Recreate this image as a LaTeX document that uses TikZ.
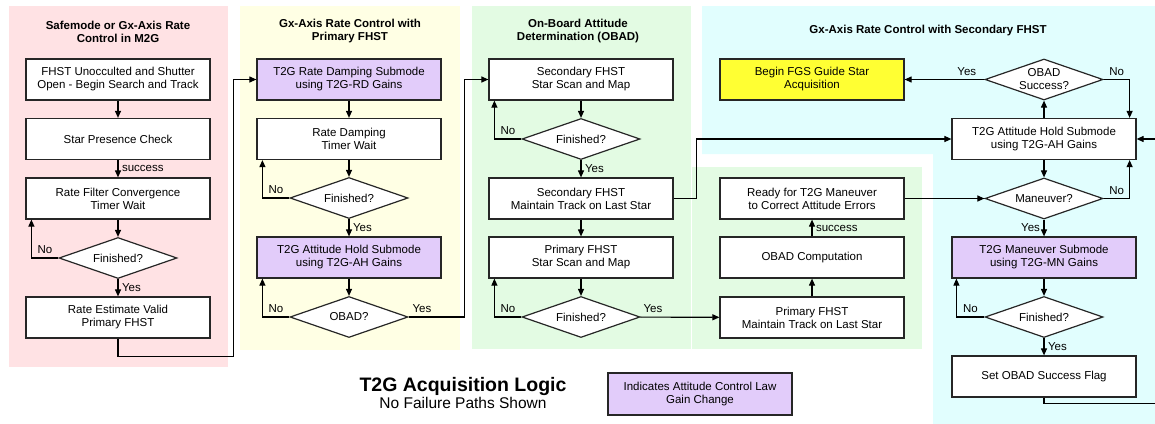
\documentclass[tikz,border=0pt]{standalone}
\usepackage{fontspec}
\setmainfont{Liberation Sans}
\usepackage[HTML]{xcolor}
\usetikzlibrary{positioning, arrows.meta, shapes.geometric}
\definecolor{pinkbg}{HTML}{FFE2E4}
\definecolor{yellowbg}{HTML}{FFFFE4}
\definecolor{greenbg}{HTML}{E3FBE3}
\definecolor{cyanbg}{HTML}{E1FEFE}
\definecolor{gainpurple}{HTML}{E2CCFA}
\definecolor{fgsyellow}{HTML}{FFFF33}

\begin{document}
\begin{tikzpicture}[x=1pt, y=-1pt,
  every node/.style={font=\fontsize{11.5}{13}\selectfont},
  blk/.style={draw=black!85, line width=1.2pt, fill=white, minimum width=184pt, minimum height=41pt, align=center, inner sep=1pt},
  gain/.style={blk, fill=gainpurple},
  dec/.style={diamond, draw=black!85, line width=1.2pt, fill=white, minimum width=118pt, minimum height=41pt, aspect=2.9, inner sep=0pt, align=center},
  ttl/.style={font=\fontsize{11.5}{13}\selectfont\bfseries, align=center},
  lbl/.style={inner sep=3.5pt},
  arr/.style={-{Triangle[length=7pt,width=6pt]}, line width=1.1pt}]
\useasboundingbox (0,0) rectangle (1155,423);

\fill[pinkbg] (9,6) rectangle (228,367);
\fill[yellowbg] (240,6) rectangle (460,350);
\fill[greenbg] (472,6) rectangle (691,349);
\fill[greenbg] (692,167) rectangle (922,349);
\fill[cyanbg] (702,6) -- (1160,6) -- (1160,430) -- (933,430) -- (933,154) -- (702,154) -- cycle;

\node[ttl] (t1) at (118,31.5) {Safemode or Gx-Axis Rate\\Control in M2G};
\node[blk] (p1a) at (118,79.5) {FHST Unocculted and Shutter\\Open - Begin Search and Track};
\node[blk] (p1b) at (118,139) {Star Presence Check};
\node[blk] (p1c) at (118,198.5) {Rate Filter Convergence\\Timer Wait};
\node[dec] (p1d) at (118,258) {Finished?};
\node[blk] (p1e) at (118,317.5) {Rate Estimate Valid\\Primary FHST};

\node[ttl] (t2) at (350,31.5) {Gx-Axis Rate Control with\\Primary FHST};
\node[gain] (p2a) at (349,79.5) {T2G Rate Damping Submode\\using T2G-RD Gains};
\node[blk] (p2b) at (349,139) {Rate Damping\\Timer Wait};
\node[dec] (p2c) at (349,198) {Finished?};
\node[gain] (p2d) at (349,257.5) {T2G Attitude Hold Submode\\using T2G-AH Gains};
\node[dec] (p2e) at (349,317) {OBAD?};

\node[ttl] (t3) at (578,31.5) {On-Board Attitude\\Determination (OBAD)};
\node[blk] (p3a) at (581,79.5) {Secondary FHST\\Star Scan and Map};
\node[dec] (p3b) at (581,139) {Finished?};
\node[blk] (p3c) at (581,198.5) {Secondary FHST\\Maintain Track on Last Star};
\node[blk] (p3d) at (581,257.5) {Primary FHST\\Star Scan and Map};
\node[dec] (p3e) at (581,317) {Finished?};

\node[blk, fill=fgsyellow] (fgs) at (812,79.5) {Begin FGS Guide Star\\Acquisition};
\node[blk] (q1) at (812,198.5) {Ready for T2G Maneuver\\to Correct Attitude Errors};
\node[blk] (q2) at (812,257.5) {OBAD Computation};
\node[blk] (q3) at (812,317.5) {Primary FHST\\Maintain Track on Last Star};

\node[ttl] (t4) at (928,31) {Gx-Axis Rate Control with Secondary FHST};
\node[dec] (r1) at (1044,79.5) {OBAD\\Success?};
\node[blk] (r2) at (1044,139) {T2G Attitude Hold Submode\\using T2G-AH Gains};
\node[dec] (r3) at (1044,198.5) {Maneuver?};
\node[gain] (r4) at (1044,257.5) {T2G Maneuver Submode\\using T2G-MN Gains};
\node[dec] (r5) at (1044,317) {Finished?};
\node[blk] (r6) at (1044,376.5) {Set OBAD Success Flag};

\node[font=\fontsize{19.5}{22}\selectfont\bfseries] (title) at (463,386) {T2G Acquisition Logic};
\node (subtitle) at (463,403) [font=\fontsize{15.5}{18}\selectfont] {No Failure Paths Shown};
\node[gain, minimum height=42pt] (key) at (700,394) {Indicates Attitude Control Law\\Gain Change};

\draw[arr] (p1a) -- (p1b);
\draw[arr] (p1b) -- node[lbl, right] (s1) {success} (p1c);
\draw[arr] (p1c) -- (p1d);
\draw[arr] (p1d) -- node[lbl, right] (y1) {Yes} (p1e);
\draw[arr] (p1d.west) -| node[lbl, pos=0.25, above] (n1) {No} ([xshift=6pt]p1c.south west);
\draw[arr] (p1e.south) -- ++(0,18) -| ([xshift=-23pt]p2a.west) -- (p2a.west);

\draw[arr] (p2a) -- (p2b);
\draw[arr] (p2b) -- (p2c);
\draw[arr] (p2c) -- node[lbl, right] (y2) {Yes} (p2d);
\draw[arr] (p2c.west) -| node[lbl, pos=0.25, above] (n2) {No} ([xshift=6pt]p2b.south west);
\draw[arr] (p2d) -- (p2e);
\draw[arr] (p2e.west) -| node[lbl, pos=0.25, above] (n3) {No} ([xshift=6pt]p2d.south west);
\draw[arr] (p2e.east) -| node[lbl, pos=0.12, above] (y3) {Yes} ([xshift=-24pt]p3a.west) -- (p3a.west);

\draw[arr] (p3a) -- (p3b);
\draw[arr] (p3b.west) -| node[lbl, pos=0.25, above] (n4) {No} ([xshift=6pt]p3a.south west);
\draw[arr] (p3b) -- node[lbl, right] (y4) {Yes} (p3c);
\draw[arr] (p3c) -- (p3d);
\draw[arr] (p3d) -- (p3e);
\draw[arr] (p3e.west) -| node[lbl, pos=0.25, above] (n5) {No} ([xshift=6pt]p3d.south west);
\draw[arr] (p3e) -- node[lbl, pos=0.16, above] (y5) {Yes} (q3);
\draw[arr] (p3c.east) -- ++(23,0) |- (r2.west);

\draw[arr] (q3) -- (q2);
\draw[arr] (q2) -- node[lbl, right] (s2) {success} (q1);
\draw[arr] (q1) -- (r3);

\draw[arr] (r2) -- (r1);
\draw[arr] (r1) -- node[lbl, pos=0.22, above] (y6) {Yes} (fgs);
\draw[arr] (r1.east) -| node[lbl, pos=0.25, above] (n6) {No} ([xshift=-7pt]r2.north east);
\draw[arr] (r2) -- (r3);
\draw[arr] (r3.east) -| node[lbl, pos=0.25, above] (n7) {No} ([xshift=-7pt]r2.south east);
\draw[arr] (r3) -- node[lbl, left] (y7) {Yes} (r4);
\draw[arr] (r4) -- (r5);
\draw[arr] (r5.west) -| node[lbl, pos=0.25, above] (n8) {No} ([xshift=5pt]r4.south west);
\draw[arr] (r5) -- node[lbl, right] (y8) {Yes} (r6);
\draw[arr] (r6.south) -- ++(0,6) -| ([xshift=64pt]r2.east) -- (r2.east);

\end{tikzpicture}
\end{document}
